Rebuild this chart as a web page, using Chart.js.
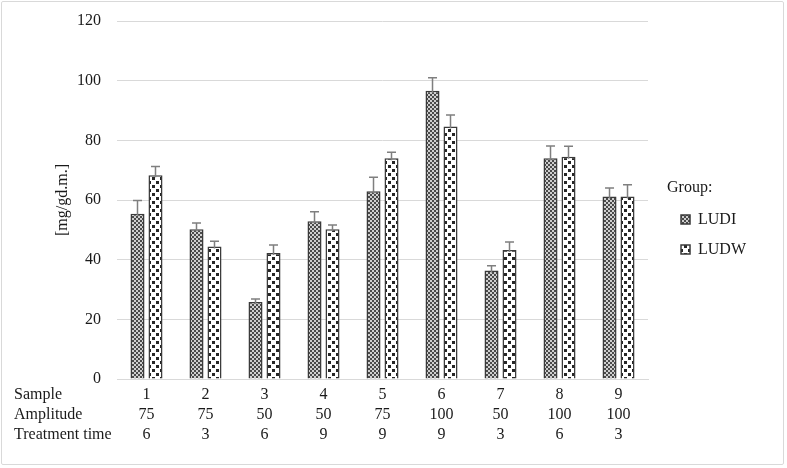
<!DOCTYPE html>
<html><head><meta charset="utf-8">
<script src="https://cdn.jsdelivr.net/npm/chart.js@4"></script>
<style>
html,body{margin:0;padding:0;background:#fff}
#wrap{position:relative;width:787px;height:468px}
#frame{position:absolute;left:1px;top:1px;width:783px;height:464px;box-sizing:border-box;border:1px solid #d9d9d9;border-radius:2px;pointer-events:none}
canvas{position:absolute;left:0;top:0}
</style></head>
<body><div id="wrap"><canvas id="c" width="787" height="468"></canvas><div id="frame"></div></div>
<script>
// ---- data ----
const samples = ['1','2','3','4','5','6','7','8','9'];
const amplitude = ['75','75','50','50','75','100','50','100','100'];
const treatmentTime = ['6','3','6','9','9','9','3','6','3'];
const rowTitles = ['Sample','Amplitude','Treatment time'];
const ludi = [55.4, 50.2, 25.8, 52.9, 62.9, 96.6, 36.4, 74.0, 61.2];
const ludiErr = [4.4, 2.1, 1.0, 3.2, 4.7, 4.4, 1.6, 4.1, 2.8];
const ludw = [68.3, 44.4, 42.2, 50.2, 74.0, 84.6, 43.2, 74.5, 61.2];
const ludwErr = [2.9, 1.8, 2.7, 1.4, 2.0, 3.9, 2.7, 3.5, 3.9];
const yTicks = [0, 20, 40, 60, 80, 100, 120];

const FONT = {family: '"Liberation Serif", "Times New Roman", serif', size: 16, lineHeight: 1.25};
const TXT = '#1a1a1a';

const canvas = document.getElementById('c');
const ctx = canvas.getContext('2d');

function makePattern(draw, w, h) {
  const pc = document.createElement('canvas');
  pc.width = w; pc.height = h;
  draw(pc.getContext('2d'));
  return ctx.createPattern(pc, 'repeat');
}
const ludiPattern = makePattern(g => {
  g.fillStyle = '#cfcfcf'; g.fillRect(0, 0, 4, 4);
  g.fillStyle = '#4a4a4a'; g.fillRect(0, 0, 2, 2); g.fillRect(2, 2, 2, 2);
}, 4, 4);
const ludwPattern = makePattern(g => {
  g.fillStyle = '#ffffff'; g.fillRect(0, 0, 8, 8);
  g.fillStyle = '#262626';
  g.fillRect(0, 1, 3, 3); g.fillRect(4, 5, 3, 3);
}, 8, 8);

const errors = [ludiErr, ludwErr];

const errorBars = {
  id: 'errorBars',
  afterDatasetsDraw(chart) {
    const c = chart.ctx, ys = chart.scales.y;
    c.save();
    c.strokeStyle = '#7f7f7f';
    c.lineWidth = 1.5;
    chart.data.datasets.forEach((ds, di) => {
      const meta = chart.getDatasetMeta(di);
      meta.data.forEach((bar, i) => {
        const top = ys.getPixelForValue(ds.data[i] + errors[di][i]);
        const x = bar.x;
        c.beginPath();
        c.moveTo(x, bar.y + 2); c.lineTo(x, top);
        c.moveTo(x - 4.5, top); c.lineTo(x + 4.5, top);
        c.stroke();
      });
    });
    c.restore();
  }
};

const rowLabels = {
  id: 'rowLabels',
  afterDraw(chart) {
    const c = chart.ctx, xs = chart.scales.x;
    const pad = xs.options.ticks.padding;
    const lh = FONT.size * FONT.lineHeight;
    c.save();
    c.font = FONT.size + 'px ' + FONT.family;
    c.fillStyle = TXT;
    c.textAlign = 'left';
    c.textBaseline = 'middle';
    rowTitles.forEach((t, i) => c.fillText(t, 14, xs.top + pad + lh * (i + 0.5)));
    c.restore();
  }
};

new Chart(canvas, {
  type: 'bar',
  data: {
    labels: samples.map((s, i) => [s, amplitude[i], treatmentTime[i]]),
    datasets: [
      {label: 'LUDI', data: ludi, backgroundColor: ludiPattern, borderColor: '#3a3a3a', borderWidth: 1.5},
      {label: 'LUDW', data: ludw, backgroundColor: ludwPattern, borderColor: '#3a3a3a', borderWidth: 1.5}
    ]
  },
  options: {
    responsive: false,
    animation: false,
    devicePixelRatio: 1,
    layout: {padding: {left: 49, top: 0, right: 31, bottom: 17}},
    datasets: {bar: {categoryPercentage: 0.61, barPercentage: 0.78}},
    plugins: {
      tooltip: {enabled: false},
      legend: {
        position: 'right',
        align: 'center',
        title: {display: true, text: 'Group:', color: TXT, font: FONT, padding: {top: 0, bottom: -2}, position: 'start'},
        labels: {boxWidth: 9, boxHeight: 9, padding: 14, color: TXT, font: FONT}
      }
    },
    scales: {
      x: {
        offset: true,
        grid: {display: false, drawTicks: false},
        border: {display: true, color: '#d9d9d9', width: 1},
        ticks: {color: TXT, font: FONT, padding: 6, maxRotation: 0, autoSkip: false}
      },
      y: {
        min: 0, max: 120,
        afterBuildTicks: s => { s.ticks = yTicks.map(v => ({value: v})); },
        afterFit: s => { s.width = 68; s.paddingTop = 21; },
        grid: {color: '#d9d9d9', lineWidth: 1, drawTicks: false},
        border: {display: false},
        ticks: {color: TXT, font: FONT, padding: 16},
        title: {display: true, text: '[mg/gd.m.]', color: TXT, font: FONT, padding: {top: 4, bottom: 4}}
      },
      y2: {
        position: 'right',
        grid: {display: false, drawTicks: false},
        border: {display: false},
        ticks: {display: false},
        afterFit: s => { s.width = 19; }
      }
    }
  },
  plugins: [errorBars, rowLabels]
});
</script>
</body></html>
